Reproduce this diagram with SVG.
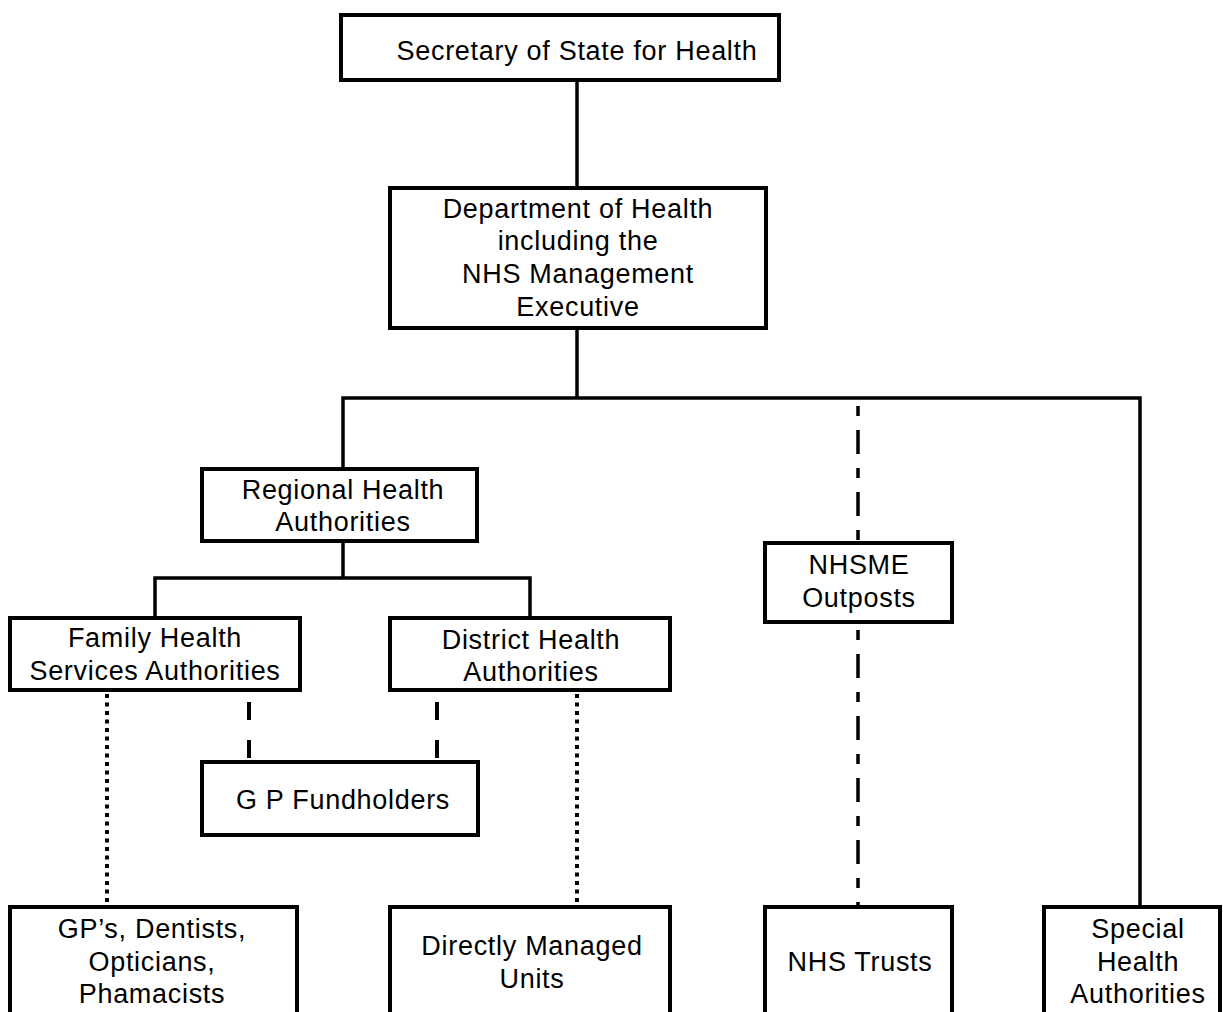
<svg xmlns="http://www.w3.org/2000/svg" width="1223" height="1012" viewBox="0 0 1223 1012">
<style>
.box{fill:#fff;stroke:#000;stroke-width:4}
.t{font-family:"Liberation Sans",Arial,sans-serif;font-size:27px;letter-spacing:0.7px;text-anchor:middle;fill:#000}
.ln{fill:none;stroke:#000;stroke-width:3.5}
.dash{fill:none;stroke:#000;stroke-width:4;stroke-dasharray:18 20}
.dot{fill:none;stroke:#000;stroke-width:4;stroke-dasharray:4 4.5}
.dd{fill:none;stroke:#000;stroke-width:3.5;stroke-dasharray:10 14 24 14}
</style>
<rect width="1223" height="1012" fill="#fff"/>
<g id="connectors">
<line class="ln" x1="577" y1="80" x2="577" y2="188"/>
<line class="ln" x1="577" y1="328" x2="577" y2="398"/>
<polyline class="ln" points="343,470 343,398 1140,398 1140,908"/>
<line class="ln" x1="343" y1="541" x2="343" y2="578"/>
<polyline class="ln" points="155,620 155,578 530,578 530,620"/>
<line class="dd" x1="858" y1="406" x2="858" y2="543"/>
<line class="dd" x1="858" y1="630" x2="858" y2="908"/>
<line class="dash" x1="249" y1="702" x2="249" y2="762"/>
<line class="dash" x1="437" y1="702" x2="437" y2="762"/>
<line class="dot" x1="107" y1="694" x2="107" y2="907"/>
<line class="dot" x1="577" y1="694" x2="577" y2="907"/>
</g>
<g id="n-secretary"><rect class="box" x="341" y="15" width="438" height="65"/><text class="t" x="577" y="60">Secretary of State for Health</text></g>
<g id="n-dept"><rect class="box" x="390" y="188" width="376" height="140"/>
<text class="t" x="578" y="218">Department of Health</text>
<text class="t" x="578" y="250">including the</text>
<text class="t" x="578" y="283">NHS Management</text>
<text class="t" x="578" y="316">Executive</text></g>
<g id="n-regional"><rect class="box" x="202" y="469" width="275" height="72"/>
<text class="t" x="343" y="499">Regional Health</text>
<text class="t" x="343" y="531">Authorities</text></g>
<g id="n-fhsa"><rect class="box" x="10" y="618" width="290" height="72"/>
<text class="t" x="155" y="647">Family Health</text>
<text class="t" x="155" y="680">Services Authorities</text></g>
<g id="n-dha"><rect class="box" x="390" y="618" width="280" height="72"/>
<text class="t" x="531" y="649">District Health</text>
<text class="t" x="531" y="681">Authorities</text></g>
<g id="n-nhsme"><rect class="box" x="765" y="543" width="187" height="79"/>
<text class="t" x="859" y="574">NHSME</text>
<text class="t" x="859" y="607">Outposts</text></g>
<g id="n-gpf"><rect class="box" x="202" y="762" width="276" height="73"/>
<text class="t" x="343" y="809">G P Fundholders</text></g>
<g id="n-gps"><rect class="box" x="10" y="907" width="287" height="130"/>
<text class="t" x="152" y="938">GP’s, Dentists,</text>
<text class="t" x="152" y="971">Opticians,</text>
<text class="t" x="152" y="1003">Phamacists</text></g>
<g id="n-dmu"><rect class="box" x="390" y="907" width="280" height="130"/>
<text class="t" x="532" y="955">Directly Managed</text>
<text class="t" x="532" y="988">Units</text></g>
<g id="n-trusts"><rect class="box" x="765" y="907" width="187" height="130"/>
<text class="t" x="860" y="971">NHS Trusts</text></g>
<g id="n-special"><rect class="box" x="1044" y="907" width="176" height="130"/>
<text class="t" x="1138" y="938">Special</text>
<text class="t" x="1138" y="971">Health</text>
<text class="t" x="1138" y="1003">Authorities</text></g>
</svg>
